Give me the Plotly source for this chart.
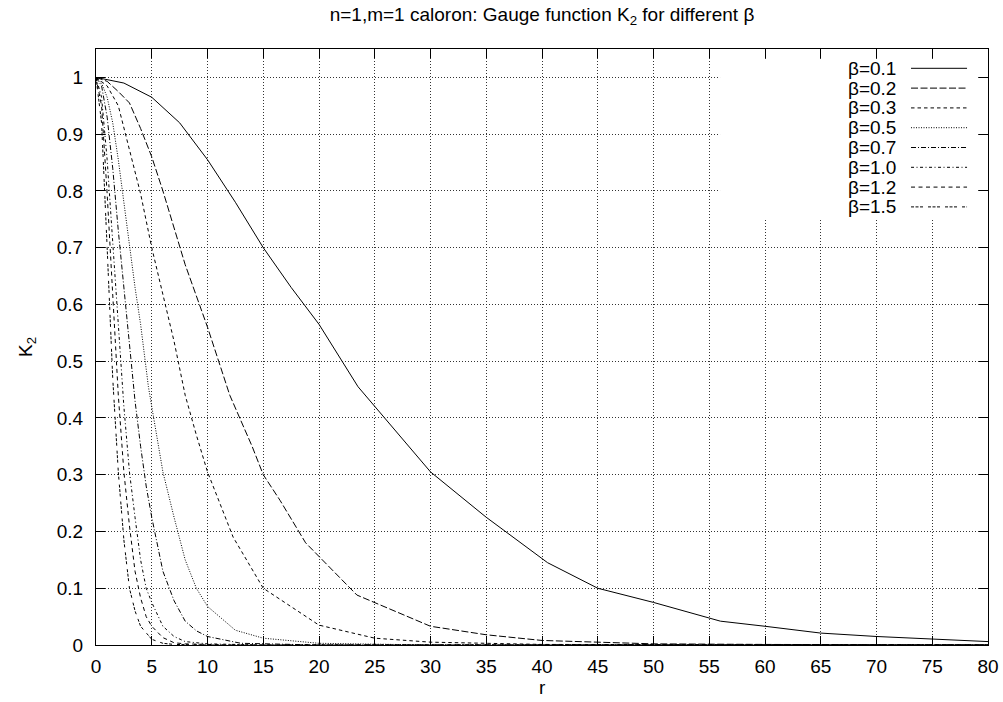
import plotly.graph_objects as go

# ---- data ----
betas = ["0.1", "0.2", "0.3", "0.5", "0.7", "1.0", "1.2", "1.5"]

r_b01 = [0, 2.5, 5, 7.5, 10, 12.5, 15, 17.5, 20, 23.5, 30, 35, 40.5, 45, 50, 56, 60, 65, 70, 75, 80]
k_b01 = [1.0, 0.99, 0.965, 0.92, 0.855, 0.78, 0.70, 0.63, 0.565, 0.455, 0.305, 0.225, 0.145, 0.10, 0.075, 0.042, 0.033, 0.021, 0.015, 0.010, 0.006]

r_b02 = [0, 1, 2, 3, 4, 5, 6, 7, 8, 9, 10, 11, 12, 13, 14, 15, 16.5, 18.8, 23.4, 30, 35, 40, 50, 60, 80]
k_b02 = [1.0, 0.993, 0.975, 0.955, 0.91, 0.86, 0.8, 0.735, 0.67, 0.615, 0.56, 0.50, 0.44, 0.395, 0.35, 0.30, 0.255, 0.18, 0.088, 0.033, 0.018, 0.008, 0.002, 0.001, 0.0]

r_b03 = [0, 1, 2, 3, 4, 5, 6, 7, 8, 9, 10, 11, 12.3, 15, 20, 25, 30, 40, 80]
k_b03 = [1.0, 0.985, 0.95, 0.875, 0.795, 0.70, 0.615, 0.535, 0.44, 0.37, 0.305, 0.255, 0.19, 0.10, 0.035, 0.012, 0.005, 0.001, 0.0]

r_b05 = [0, 0.5, 1, 1.5, 2, 2.5, 3, 3.5, 4, 4.7, 5, 6, 7, 8, 9, 10, 12.5, 15, 20, 30, 80]
k_b05 = [1.0, 0.99, 0.965, 0.92, 0.855, 0.78, 0.70, 0.63, 0.565, 0.455, 0.42, 0.305, 0.225, 0.15, 0.10, 0.068, 0.026, 0.012, 0.003, 0.0, 0.0]

r_b07 = [0, 0.5, 1, 1.5, 2, 2.5, 3, 3.5, 4, 4.5, 5, 6, 7, 8, 9, 10, 13, 20, 80]
k_b07 = [1.0, 0.985, 0.93, 0.84, 0.73, 0.63, 0.535, 0.43, 0.35, 0.28, 0.225, 0.13, 0.078, 0.042, 0.025, 0.015, 0.003, 0.0, 0.0]

r_b10 = [0, 0.5, 1, 1.5, 2, 2.5, 3, 3.5, 4, 4.5, 5, 6, 7, 8, 10, 15, 80]
k_b10 = [1.0, 0.965, 0.855, 0.70, 0.565, 0.42, 0.305, 0.225, 0.15, 0.10, 0.075, 0.033, 0.015, 0.006, 0.002, 0.0, 0.0]

r_b12 = [0, 0.5, 1, 1.5, 2, 2.5, 3, 3.5, 4, 4.5, 5, 6, 7, 8, 12, 80]
k_b12 = [1.0, 0.95, 0.795, 0.615, 0.44, 0.305, 0.21, 0.13, 0.083, 0.05, 0.033, 0.013, 0.004, 0.002, 0.0, 0.0]

r_b15 = [0, 0.5, 1, 1.5, 2, 2.5, 3, 3.5, 4, 5, 6, 7, 10, 80]
k_b15 = [1.0, 0.92, 0.70, 0.47, 0.305, 0.185, 0.10, 0.06, 0.033, 0.01, 0.003, 0.001, 0.0, 0.0]

series_r = [r_b01, r_b02, r_b03, r_b05, r_b07, r_b10, r_b12, r_b15]
series_k = [k_b01, k_b02, k_b03, k_b05, k_b07, k_b10, k_b12, k_b15]

x_ticks = list(range(0, 81, 5))
y_ticks = [0, 0.1, 0.2, 0.3, 0.4, 0.5, 0.6, 0.7, 0.8, 0.9, 1]
y_ticklabels = ["0", "0.1", "0.2", "0.3", "0.4", "0.5", "0.6", "0.7", "0.8", "0.9", "1"]

# ---- styles ----
dashes = ["solid", "7px,2.5px", "3.5px,3px", "1px,1.5px", "5px,2px,1px,2px",
          "3px,2.5px,1px,2.5px", "4px,3.5px", "3px,1.5px,3px,1.5px,3px,5px"]
FONT = "Liberation Sans, Arial, Helvetica, sans-serif"
FS = 19

fig = go.Figure()
for b, rr, kk, d in zip(betas, series_r, series_k, dashes):
    fig.add_trace(go.Scatter(x=rr, y=kk, mode="lines", name="β=" + b,
                             line=dict(color="black", width=1, dash=d),
                             showlegend=False))

# custom gnuplot-style key (text left, sample right) in paper coords
shapes = [dict(type="rect", xref="paper", yref="paper", x0=0.6996, x1=0.9888,
               y0=0.7164, y1=0.983, fillcolor="white", line=dict(width=0), layer="above")]
annotations = []
for i, (b, d) in enumerate(zip(betas, dashes)):
    yp = 0.9676 - 0.03322 * i
    annotations.append(dict(xref="paper", yref="paper", x=0.8991, y=yp, text="β=" + b,
                            showarrow=False, xanchor="right", yanchor="middle",
                            font=dict(family=FONT, size=FS, color="black")))
    shapes.append(dict(type="line", xref="paper", yref="paper", x0=0.9137, x1=0.9765,
                       y0=yp, y1=yp, line=dict(color="black", width=1, dash=d), layer="above"))

annotations.append(dict(xref="paper", yref="paper", x=-0.0774, y=0.5, text="K<sub>2</sub>",
                        showarrow=False, textangle=-90, xanchor="center", yanchor="middle",
                        font=dict(family=FONT, size=FS, color="black")))
annotations.append(dict(xref="paper", yref="paper", x=0.5, y=-0.072, text="r",
                        showarrow=False, xanchor="center", yanchor="middle",
                        font=dict(family=FONT, size=FS, color="black")))

fig.update_layout(
    width=1003, height=702,
    margin=dict(l=96, r=15, t=49, b=57, autoexpand=False),
    paper_bgcolor="white", plot_bgcolor="white",
    font=dict(family=FONT, size=FS, color="black"),
    title=dict(text="n=1,m=1 caloron: Gauge function K<sub>2</sub> for different β",
               x=0.5, xref="paper", xanchor="center", y=0.98, yref="container", yanchor="middle",
               font=dict(family=FONT, size=FS, color="black")),
    shapes=shapes, annotations=annotations,
    xaxis=dict(range=[0, 80], tickvals=x_ticks, ticks="inside", ticklen=9, tickwidth=1,
               tickcolor="black", showline=True, linecolor="black", linewidth=1, mirror="allticks",
               showgrid=True, gridcolor="#333", griddash="1px,2px", gridwidth=1, zeroline=False,
               ticklabelstandoff=4, automargin=False,
               tickfont=dict(family=FONT, size=FS)),
    yaxis=dict(range=[0, 1.05], tickvals=y_ticks, ticktext=y_ticklabels, ticks="inside",
               ticklen=9, tickwidth=1, tickcolor="black", showline=True, linecolor="black",
               linewidth=1, mirror="allticks", showgrid=True, gridcolor="#333",
               griddash="1px,2px", gridwidth=1, zeroline=False,
               ticklabelstandoff=8, automargin=False,
               tickfont=dict(family=FONT, size=FS)),
)

fig.write_html("out.html", config={"displayModeBar": False},
               post_script="document.body.style.margin='0';document.body.style.overflow='hidden';")
